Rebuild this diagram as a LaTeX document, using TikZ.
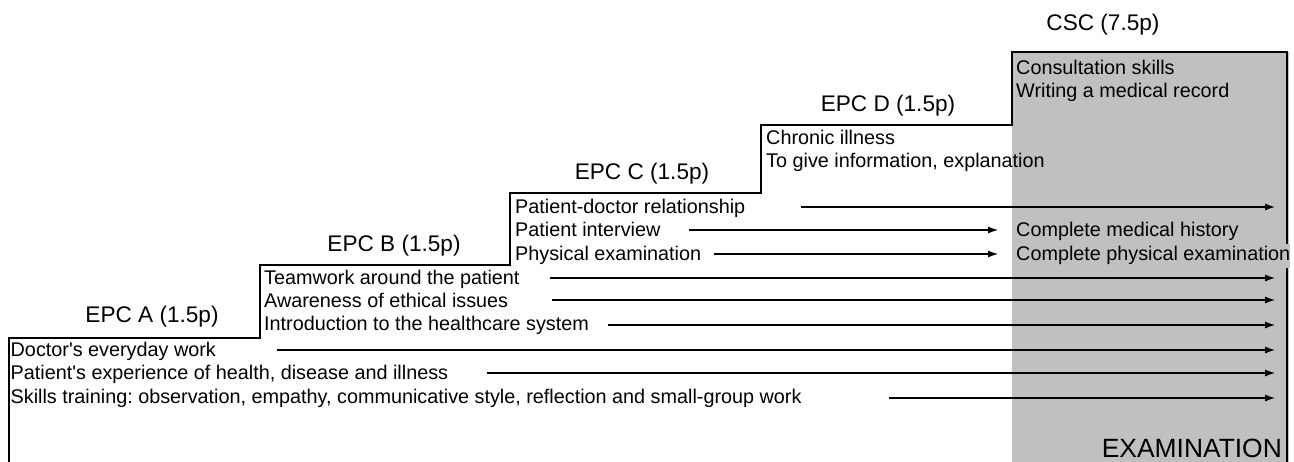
\documentclass[tikz,border=0pt]{standalone}
\usepackage{fontspec}
\setmainfont{Liberation Sans}
\usetikzlibrary{arrows.meta}
\definecolor{examgray}{RGB}{192,192,192}
\frenchspacing
\begin{document}
\begin{tikzpicture}[x=1pt,y=-1pt,
  item/.style={anchor=base west, inner sep=0pt, font=\fontsize{19.8}{23}\selectfont},
  epclabel/.style={anchor=base, inner sep=0pt, font=\fontsize{22.6}{27}\selectfont},
  outline/.style={line width=2.5pt, line join=miter},
  flow/.style={line width=1.1pt, -{Latex[length=10pt,width=7pt]}},
]
\useasboundingbox (0,0) rectangle (1294,462);
% exam area
\fill[examgray] (1012,52) rectangle (1289,462);
% staircase outline
\draw[outline] (9,462) -- (9,338) -- (260,338) -- (260,265) -- (510,265) -- (510,193)
  -- (761,193) -- (761,125) -- (1012,125) -- (1012,52) -- (1287,52) -- (1287,462);

% step labels
\node[epclabel] (lA) at (152,323) {EPC A (1.5p)};
\node[epclabel] (lB) at (394,252) {EPC B (1.5p)};
\node[epclabel] (lC) at (642,180) {EPC C (1.5p)};
\node[epclabel] (lD) at (888,112) {EPC D (1.5p)};
\node[epclabel] (lCSC) at (1103,31) {CSC (7.5p)};

% EPC A items
\node[item] (a1) at (10.5,357) {Doctor\textquotesingle s everyday work};
\node[item] (a2) at (10.5,380) {Patient\textquotesingle s experience of health, disease and illness};
\node[item] (a3) at (10.5,403) {Skills training: observation, empathy, communicative style, reflection and small-group work};
% EPC B items
\node[item] (b1) at (264,285) {Teamwork around the patient};
\node[item] (b2) at (264,308) {Awareness of ethical issues};
\node[item] (b3) at (264,331) {Introduction to the healthcare system};
% EPC C items
\node[item] (c1) at (515,214) {Patient-doctor relationship};
\node[item] (c2) at (515,237) {Patient interview};
\node[item] (c3) at (515,261) {Physical examination};
% EPC D items
\node[item] (d1) at (766,145) {Chronic illness};
\node[item] (d2) at (766,168) {To give information, explanation};
% CSC items
\node[item] (e1) at (1016,75) {Consultation skills};
\node[item] (e2) at (1016,98) {Writing a medical record};
\node[item] (f1) at (1016,237) {Complete medical history};
\node[item, fill=examgray, inner ysep=3pt] (f2) at (1016,261) {Complete physical examination};
% examination
\node[anchor=base east, inner sep=0pt, font=\fontsize{26.4}{30}\selectfont] (exam) at (1282,457) {EXAMINATION};

% arrow ends
\coordinate (c1s) at (801,207);  \coordinate (c1e) at (1275,207);
\coordinate (c2s) at (689,230);  \coordinate (c2e) at (998,230);
\coordinate (c3s) at (714,254);  \coordinate (c3e) at (998,254);
\coordinate (b1s) at (550,278);  \coordinate (b1e) at (1275,278);
\coordinate (b2s) at (552,300);  \coordinate (b2e) at (1275,300);
\coordinate (b3s) at (608,325);  \coordinate (b3e) at (1275,325);
\coordinate (a1s) at (277,350);  \coordinate (a1e) at (1275,350);
\coordinate (a2s) at (487,373);  \coordinate (a2e) at (1275,373);
\coordinate (a3s) at (889,398);  \coordinate (a3e) at (1275,398);

\draw[flow] (c1s) -- (c1e);
\draw[flow] (c2s) -- (c2e);
\draw[flow] (c3s) -- (c3e);
\draw[flow] (b1s) -- (b1e);
\draw[flow] (b2s) -- (b2e);
\draw[flow] (b3s) -- (b3e);
\draw[flow] (a1s) -- (a1e);
\draw[flow] (a2s) -- (a2e);
\draw[flow] (a3s) -- (a3e);
\end{tikzpicture}
\end{document}
